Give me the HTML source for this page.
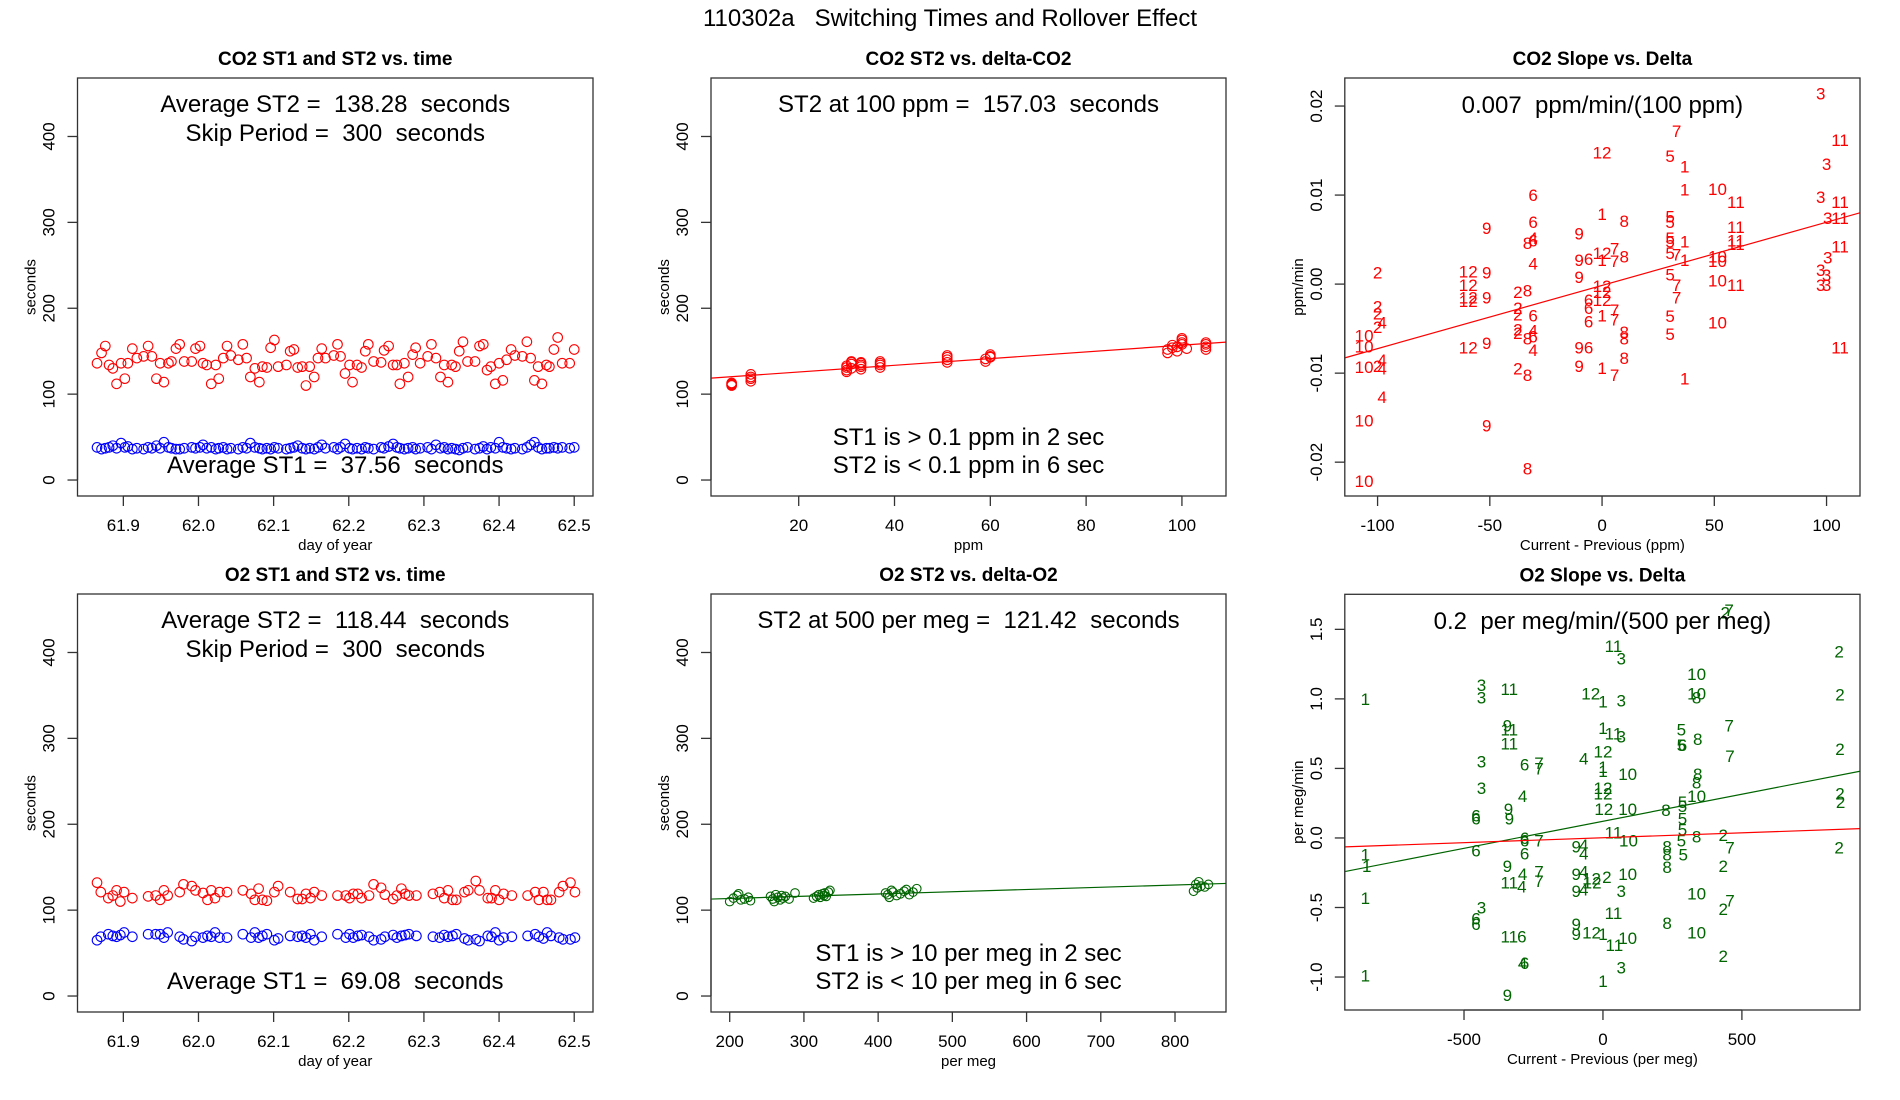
<!DOCTYPE html>
<html><head><meta charset="utf-8"><title>110302a Switching Times and Rollover Effect</title>
<style>
html,body{margin:0;padding:0;background:#fff;}
svg{display:block;font-family:"Liberation Sans",Arial,sans-serif;}
text{white-space:pre;}
</style></head>
<body>
<svg id="fig" width="1900" height="1100" viewBox="0 0 1900 1100" xmlns="http://www.w3.org/2000/svg">
<rect x="0" y="0" width="1900" height="1100" fill="#fff"/>
<text x="950" y="26" font-size="24" text-anchor="middle">110302a   Switching Times and Rollover Effect</text>
</svg>
<script>
// ---------- Panel 1: CO2 ST1/ST2 vs time ----------
const co2Time = [61.865,61.871,61.876,61.881,61.886,61.891,61.897,61.902,61.906,61.912,61.918,61.927,61.933,61.938,61.944,61.949,61.954,61.960,61.964,61.970,61.975,61.981,61.991,61.996,62.002,62.006,62.011,62.017,62.023,62.027,62.033,62.038,62.043,62.053,62.059,62.064,62.069,62.075,62.081,62.085,62.091,62.096,62.101,62.106,62.117,62.122,62.127,62.132,62.138,62.143,62.148,62.154,62.159,62.164,62.169,62.180,62.185,62.189,62.195,62.201,62.205,62.211,62.217,62.222,62.226,62.233,62.243,62.247,62.253,62.259,62.264,62.268,62.274,62.279,62.285,62.289,62.295,62.305,62.310,62.316,62.322,62.327,62.332,62.337,62.342,62.347,62.352,62.358,62.368,62.374,62.379,62.384,62.389,62.395,62.400,62.405,62.410,62.416,62.421,62.431,62.437,62.442,62.447,62.452,62.457,62.463,62.467,62.473,62.478,62.484,62.494,62.500];
const co2ST2 = [136,148,156,134,130,112,136,118,136,153,142,144,156,144,118,136,114,136,138,153,158,138,138,153,156,136,134,112,134,118,142,156,145,140,158,142,120,130,114,132,131,154,163,132,134,150,152,131,132,110,132,120,142,153,142,145,158,144,124,134,114,134,131,150,158,138,137,151,156,134,134,112,136,120,146,154,136,144,158,142,120,134,114,134,132,150,161,138,138,156,158,128,132,112,136,116,140,152,145,144,161,142,116,132,112,134,132,152,166,136,136,152];
const co2ST1 = [38,36,37,38,40,37,43,38,39,36,37,36,38,37,40,37,44,38,37,36,36,37,38,37,38,41,37,38,36,37,38,36,37,36,38,37,43,38,37,36,37,36,38,37,36,37,38,40,37,36,37,36,38,41,37,38,36,38,42,37,36,37,36,38,37,36,38,37,39,42,38,37,36,37,38,36,37,38,36,41,37,38,36,37,36,35,37,38,36,37,39,36,38,37,44,38,37,36,37,36,38,41,44,38,36,37,37,38,37,38,37,38];
// ---------- Panel 2: CO2 ST2 vs delta-CO2 ----------
const co2Delta = [6,6,6,6,10,10,10,10,30,30,30,31,31,31,30,31,33,33,33,33,33,37,37,37,37,51,51,51,51,59,59,60,60,60,97,97,98,98,99,99,100,100,100,100,101,105,105,105,105];
const co2DeltaST2 = [110,112,113,111,115,118,120,123,128,131,133,135,137,130,126,138,129,132,134,136,137,131,134,136,138,137,140,143,145,138,141,144,146,143,148,152,154,157,150,155,160,163,165,158,153,152,155,158,160];
const co2FitIntercept = 118.0, co2FitSlope = 0.39;
// ---------- Panel 3: CO2 slope vs delta ----------
const co2SlopeLabels = ["3","7","11","12","5","1","3","6","1","10","11","3","11","1","8","5","5","6","9","11","3","11","9","4","6","8","5","5","1","11","11","11","7","12","9","6","1","7","8","5","7","1","10","10","3","4","2","12","9","9","3","3","5","12","12","7","10","11","3","3","2","8","12","12","9","12","12","6","6","7","2","2","2","2","6","1","7","7","5","6","10","4","2","10","10","2","2","4","6","8","4","8","8","5","12","9","9","6","11","8","10","2","4","4","9","1","7","2","8","1","4","10","9","8","10"];
const co2SlopeX = [97.4,33.2,106,0,30.3,36.8,100,-30.7,36.8,51.4,59.6,97.4,106,0,9.9,30.3,30.3,-30.7,-51.4,59.6,100.5,106,-10.2,-30.7,-30.7,-33.2,30.3,30.3,36.8,59.6,59.6,106,5.6,0,-10.2,-6,0,5.6,9.9,30.3,33.2,36.8,51.4,51.4,100.5,-30.7,-100,-59.6,-51.4,-10.2,97.4,100,30.3,-59.6,0,33.2,51.4,59.6,97.4,100,-37.5,-33.2,0,-59.6,-51.4,-59.6,0,-6,-6,33.2,-100,-37.5,-100,-37.5,-30.7,0,5.6,5.6,30.3,-6,51.4,-98,-100,-106,-106,-37.5,-37.5,-30.7,-30.7,-33.2,-30.7,9.9,9.9,30.3,-59.6,-51.4,-10.2,-6,106,9.9,-106,-100,-98,-98,-10.2,0,5.6,-37.5,-33.2,36.8,-98,-106,-51.4,-33.2,-106];
const co2SlopeY = [0.0214,0.0172,0.0162,0.0148,0.0144,0.0132,0.0135,0.0100,0.0106,0.0107,0.0092,0.0098,0.0092,0.0079,0.0071,0.0076,0.0070,0.0070,0.0063,0.0064,0.0074,0.0074,0.0057,0.0052,0.0049,0.0046,0.0052,0.0048,0.0048,0.0049,0.0045,0.0042,0.0040,0.0035,0.0027,0.0028,0.0027,0.0026,0.0031,0.0035,0.0033,0.0027,0.0031,0.0026,0.0030,0.0023,0.0013,0.0014,0.0013,0.0008,0.0016,0.0010,0.0011,-0.0001,-0.0002,-0.0001,0.0004,-0.0001,-0.0001,-0.0001,-0.0009,-0.0007,-0.0009,-0.0015,-0.0015,-0.0019,-0.0018,-0.0018,-0.0027,-0.0015,-0.0025,-0.0027,-0.0033,-0.0034,-0.0035,-0.0035,-0.0029,-0.0040,-0.0036,-0.0042,-0.0043,-0.0043,-0.0048,-0.0058,-0.0070,-0.0051,-0.0055,-0.0052,-0.0059,-0.0061,-0.0074,-0.0054,-0.0061,-0.0056,-0.0071,-0.0066,-0.0071,-0.0071,-0.0071,-0.0083,-0.0093,-0.0092,-0.0085,-0.0095,-0.0092,-0.0094,-0.0102,-0.0095,-0.0102,-0.0106,-0.0127,-0.0153,-0.0159,-0.0207,-0.0221];
const co2SlopeFitIntercept = -0.00015, co2SlopeFitSlope = 0.000071;
// ---------- Panel 4: O2 ST1/ST2 vs time ----------
const o2Time = [61.865,61.870,61.880,61.886,61.891,61.896,61.901,61.912,61.933,61.943,61.949,61.954,61.959,61.975,61.980,61.991,61.996,62.006,62.012,62.017,62.022,62.028,62.038,62.059,62.070,62.075,62.080,62.085,62.091,62.101,62.106,62.122,62.132,62.138,62.143,62.149,62.154,62.164,62.185,62.196,62.201,62.206,62.212,62.217,62.227,62.233,62.243,62.248,62.259,62.264,62.270,62.275,62.280,62.290,62.312,62.321,62.327,62.332,62.338,62.343,62.354,62.359,62.369,62.374,62.385,62.390,62.395,62.400,62.406,62.417,62.438,62.448,62.453,62.459,62.464,62.469,62.480,62.485,62.495,62.501];
const o2ST2 = [132,121,114,117,123,110,121,114,116,117,112,123,117,121,130,128,123,120,112,123,114,121,121,123,119,112,125,112,111,121,128,121,113,113,119,114,121,117,117,117,114,119,119,114,117,130,126,118,113,117,125,119,117,117,119,121,114,123,112,112,121,123,134,123,114,114,123,112,119,117,117,121,112,121,112,112,121,128,132,121];
const o2ST1 = [65,69,72,70,69,71,74,69,72,72,72,68,74,69,66,64,69,68,70,69,74,68,68,72,68,74,68,70,72,65,67,70,69,70,68,72,65,69,72,68,72,68,70,71,69,65,66,69,71,68,70,71,72,70,69,68,71,69,70,72,67,65,66,64,70,69,74,65,68,69,70,72,69,67,74,70,68,66,66,68];
// ---------- Panel 5: O2 ST2 vs delta-O2 ----------
const o2Delta = [200,205,210,212,215,220,225,228,255,258,260,262,265,268,270,272,275,280,288,313,317,320,322,325,327,328,330,333,335,410,413,415,418,420,425,430,435,438,442,447,452,825,828,830,832,835,840,845];
const o2DeltaST2 = [110,114,117,119,112,113,115,111,116,113,110,118,115,112,117,114,116,113,120,114,116,118,115,119,117,120,116,121,123,120,118,115,123,121,117,119,122,124,118,121,125,122,130,126,133,128,127,130];
const o2FitAt500 = 121.42, o2FitSlope = 0.0262;
// ---------- Panel 6: O2 slope vs delta ----------
const o2SlopeLabels = ["7","2","11","3","2","10","3","3","11","12","1","3","10","8","2","1","9","11","11","1","11","3","5","8","5","6","7","7","2","3","6","7","7","4","12","1","1","10","8","8","3","4","12","12","10","5","2","2","9","6","6","9","12","10","8","5","5","5","11","10","6","6","7","5","8","2","9","4","4","6","6","8","8","5","7","2","1","1","9","8","2","4","7","7","11","4","9","4","12","12","2","10","9","4","3","10","1","3","7","2","11","6","6","8","9","9","12","1","11","6","10","10","11","2","4","6","3","1","1","9"];
const o2SlopeX = [454,440,38,66,850,337,-437,-437,-337,-44,0,66,337,337,853,-855,-344,-337,-337,0,38,66,282,341,282,286,454,457,853,-437,-282,-230,-230,-69,0,0,0,89,341,337,-437,-289,0,0,337,286,853,855,-340,-457,-457,-337,3,89,227,286,286,286,38,92,-282,-282,-230,282,337,433,-96,-69,-69,-457,-282,231,231,289,457,850,-855,-850,-344,231,433,-289,-230,-230,-337,-292,-96,-69,-41,-39,14,89,-96,-69,66,337,-855,-437,457,433,38,-457,-457,231,-96,-96,-41,0,-337,-292,89,337,41,433,-289,-282,66,-855,0,-344];
const o2SlopeY = [1.64,1.62,1.38,1.29,1.34,1.18,1.10,1.01,1.07,1.04,0.98,0.99,1.04,1.01,1.03,1.00,0.81,0.78,0.68,0.79,0.75,0.73,0.78,0.71,0.67,0.67,0.81,0.59,0.64,0.55,0.53,0.54,0.50,0.57,0.62,0.51,0.48,0.46,0.46,0.40,0.36,0.30,0.36,0.32,0.30,0.26,0.32,0.26,0.21,0.16,0.14,0.14,0.21,0.21,0.20,0.23,0.14,0.06,0.04,-0.02,0.00,-0.02,-0.02,-0.02,0.01,0.02,-0.06,-0.05,-0.11,-0.09,-0.11,-0.06,-0.12,-0.12,-0.07,-0.07,-0.12,-0.20,-0.20,-0.21,-0.20,-0.26,-0.24,-0.31,-0.32,-0.35,-0.26,-0.24,-0.29,-0.32,-0.28,-0.26,-0.38,-0.37,-0.38,-0.40,-0.43,-0.50,-0.45,-0.51,-0.54,-0.58,-0.62,-0.61,-0.62,-0.69,-0.68,-0.69,-0.71,-0.71,-0.72,-0.68,-0.77,-0.85,-0.90,-0.90,-0.93,-0.99,-1.03,-1.13];
const o2SlopeGreenIntercept = 0.12, o2SlopeGreenSlope = 0.000389;
const o2SlopeRedIntercept = 0.0015, o2SlopeRedSlope = 0.0000707;

const co2TimeTicks = [61.9,62.0,62.1,62.2,62.3,62.4,62.5];
const secTicks = [0,100,200,300,400];
const ppmTicks = [20,40,60,80,100];
const deltaPpmTicks = [-100,-50,0,50,100];
const co2SlopeTicks = [-0.02,-0.01,0.00,0.01,0.02];
const perMegTicks = [200,300,400,500,600,700,800];
const deltaMegTicks = [-500,0,500];
const o2SlopeTicks = [-1.0,-0.5,0.0,0.5,1.0,1.5];

const NS = "http://www.w3.org/2000/svg";
const svg = document.getElementById('fig');
function el(tag, attrs, parent){const e=document.createElementNS(NS,tag);for(const k in attrs)e.setAttribute(k,attrs[k]);(parent||svg).appendChild(e);return e;}

function panel(name, box, xlim, ylim, xticks, yticks, xfmt, yfmt, title, xlab, ylab){
  const g = el('g',{});
  
  
  const sx = v => box.x0 + (v - xlim[0])/(xlim[1]-xlim[0])*(box.x1-box.x0);
  const sy = v => box.y1 - (v - ylim[0])/(ylim[1]-ylim[0])*(box.y1-box.y0);
  const t = el('text',{x:(box.x0+box.x1)/2,y:box.y0-13,'font-size':19,'font-weight':'bold','text-anchor':'middle'},g);
  t.textContent = title;
  
  
  const xa = el('g',{},g);
  
  
  el('line',{x1:sx(xticks[0]),x2:sx(xticks[xticks.length-1]),y1:box.y1,y2:box.y1,stroke:'#333','stroke-width':1.3},xa);
  xticks.forEach(v=>{
    el('line',{x1:sx(v),x2:sx(v),y1:box.y1,y2:box.y1+10,stroke:'#333','stroke-width':1.3},xa);
    const l = el('text',{x:sx(v),y:box.y1+35,'font-size':17,'text-anchor':'middle'},xa);
    l.textContent = xfmt(v);
    
    
  });
  const xl = el('text',{x:(box.x0+box.x1)/2,y:box.y1+54,'font-size':15,'text-anchor':'middle'},g);
  xl.textContent = xlab;
  
  
  const ya = el('g',{},g);
  
  
  el('line',{x1:box.x0,x2:box.x0,y1:sy(yticks[0]),y2:sy(yticks[yticks.length-1]),stroke:'#333','stroke-width':1.3},ya);
  yticks.forEach(v=>{
    el('line',{x1:box.x0-10,x2:box.x0,y1:sy(v),y2:sy(v),stroke:'#333','stroke-width':1.3},ya);
    const lx = box.x0-23, ly = sy(v);
    const l = el('text',{x:lx,y:ly,'font-size':17,'text-anchor':'middle',transform:`rotate(-90 ${lx} ${ly})`},ya);
    l.textContent = yfmt(v);
    
    
  });
  const yx = box.x0-42, yy=(box.y0+box.y1)/2;
  const yl = el('text',{x:yx,y:yy,'font-size':15,'text-anchor':'middle',transform:`rotate(-90 ${yx} ${yy})`},g);
  yl.textContent = ylab;
  
  
  const clip = 'clip-'+name;
  const cp = el('clipPath',{id:clip},g);
  el('rect',{x:box.x0,y:box.y0,width:box.x1-box.x0,height:box.y1-box.y0},cp);
  const plot = el('g',{'clip-path':`url(#${clip})`},g);
  
  
  const fr = el('rect',{x:box.x0,y:box.y0,width:box.x1-box.x0,height:box.y1-box.y0,fill:'none',stroke:'#333','stroke-width':1.3},g);
  
  
  return {g, plot, sx, sy, box};
}
function circles(P, xs, ys, color, name, r){
  xs.forEach((x,i)=>{
    if (ys[i] === undefined) return;
    const c = el('circle',{cx:P.sx(x),cy:P.sy(ys[i]),r:r||4.8,fill:'none',stroke:color,'stroke-width':1.1},P.plot);
    
    
  });
}
function labels(P, xs, ys, labs, color, name){
  xs.forEach((x,i)=>{
    const t = el('text',{x:P.sx(x),y:P.sy(ys[i])+6,'font-size':17,'text-anchor':'middle',fill:color},P.plot);
    t.textContent = labs[i];
    
    
  });
}
function fitLine(P, xlim, a, b, color, name){
  const l = el('line',{x1:P.sx(xlim[0]),y1:P.sy(a+b*xlim[0]),x2:P.sx(xlim[1]),y2:P.sy(a+b*xlim[1]),stroke:color,'stroke-width':1.2},P.plot);
  
  
}
function note(P, y, txt, name){
  const t = el('text',{x:(P.box.x0+P.box.x1)/2,y:y+8,'font-size':24,'text-anchor':'middle'},P.g);
  t.textContent = txt;
  
  
}
const f1 = v=>v.toFixed(1), f0 = v=>String(v), f2 = v=>v.toFixed(2);
const secLim = [-18.6, 468.1];
const row1 = {y0:78,y1:496}, row2 = {y0:594,y1:1012};

// Panel 1
const p1x=[61.839,62.525];
const P1 = panel('co2-time-panel',{x0:77.5,x1:593,...row1},p1x,secLim,co2TimeTicks,secTicks,f1,f0,'CO2 ST1 and ST2 vs. time','day of year','seconds');
circles(P1, co2Time, co2ST2, '#ff0000', 'co2-st2-point');
circles(P1, co2Time, co2ST1, '#0000ff', 'co2-st1-point');
note(P1,104,'Average ST2 =  138.28  seconds','avg-st2-text');
note(P1,133,'Skip Period =  300  seconds','skip-period-text');
note(P1,465,'Average ST1 =  37.56  seconds','avg-st1-text');

// Panel 2
const p2x=[1.69,109.2];
const P2 = panel('co2-delta-panel',{x0:711,x1:1226,...row1},p2x,secLim,ppmTicks,secTicks,f0,f0,'CO2 ST2 vs. delta-CO2','ppm','seconds');
circles(P2, co2Delta, co2DeltaST2, '#ff0000', 'co2-delta-point');
fitLine(P2, p2x, co2FitIntercept, co2FitSlope, '#ff0000', 'co2-fit-line');
note(P2,104,'ST2 at 100 ppm =  157.03  seconds','st2-at-100-text');
note(P2,437,'ST1 is > 0.1 ppm in 2 sec','st1-note');
note(P2,465,'ST2 is < 0.1 ppm in 6 sec','st2-note');

// Panel 3
const p3x=[-114.6,114.9];
const P3 = panel('co2-slope-panel',{x0:1344.8,x1:1860,...row1},p3x,[-0.0238,0.02315],deltaPpmTicks,co2SlopeTicks,f0,f2,'CO2 Slope vs. Delta','Current - Previous (ppm)','ppm/min');
labels(P3, co2SlopeX, co2SlopeY, co2SlopeLabels, '#ff0000', 'co2-slope-label');
fitLine(P3, p3x, co2SlopeFitIntercept, co2SlopeFitSlope, '#ff0000', 'co2-slope-fit');
note(P3,105,'0.007  ppm/min/(100 ppm)','co2-slope-text');

// Panel 4
const P4 = panel('o2-time-panel',{x0:77.5,x1:593,...row2},p1x,secLim,co2TimeTicks,secTicks,f1,f0,'O2 ST1 and ST2 vs. time','day of year','seconds');
circles(P4, o2Time, o2ST2, '#ff0000', 'o2-st2-point');
circles(P4, o2Time, o2ST1, '#0000ff', 'o2-st1-point');
note(P4,620,'Average ST2 =  118.44  seconds','avg-st2-text');
note(P4,649,'Skip Period =  300  seconds','skip-period-text');
note(P4,981,'Average ST1 =  69.08  seconds','avg-st1-text');

// Panel 5
const p5x=[174.8,868.7];
const P5 = panel('o2-delta-panel',{x0:711,x1:1226,...row2},p5x,secLim,perMegTicks,secTicks,f0,f0,'O2 ST2 vs. delta-O2','per meg','seconds');
circles(P5, o2Delta, o2DeltaST2, '#006400', 'o2-delta-point', 4.3);
fitLine(P5, p5x, o2FitAt500 - 500*o2FitSlope, o2FitSlope, '#006400', 'o2-fit-line');
note(P5,620,'ST2 at 500 per meg =  121.42  seconds','st2-at-500-text');
note(P5,953,'ST1 is > 10 per meg in 2 sec','st1-note');
note(P5,981,'ST2 is < 10 per meg in 6 sec','st2-note');

// Panel 6
const p6x=[-929,925];
const P6 = panel('o2-slope-panel',{x0:1344.8,x1:1860,y0:594.3,y1:1010},p6x,[-1.237,1.752],deltaMegTicks,o2SlopeTicks,f0,f1,'O2 Slope vs. Delta','Current - Previous (per meg)','per meg/min');
note(P6,621,'0.2  per meg/min/(500 per meg)','o2-slope-text');
labels(P6, o2SlopeX, o2SlopeY, o2SlopeLabels, '#006400', 'o2-slope-label');
fitLine(P6, p6x, o2SlopeGreenIntercept, o2SlopeGreenSlope, '#006400', 'o2-slope-fit');
fitLine(P6, p6x, o2SlopeRedIntercept, o2SlopeRedSlope, '#ff0000', 'o2-slope-ref-line');
</script>
</body></html>
